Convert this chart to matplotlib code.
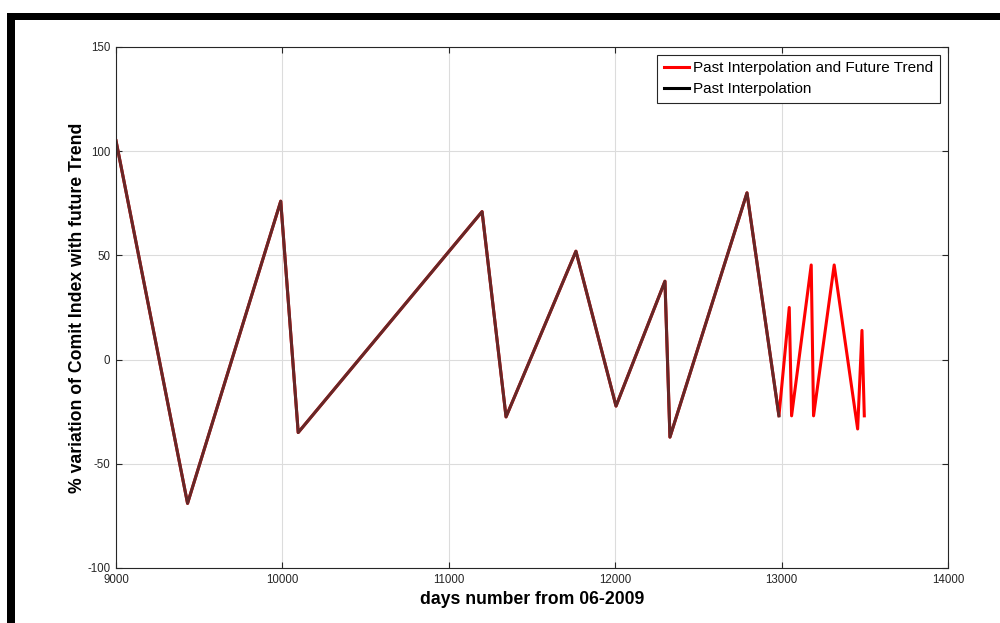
import matplotlib
matplotlib.use("Agg")
import matplotlib.pyplot as plt
from matplotlib.patches import Rectangle

plt.rcParams['font.family'] = ['Liberation Sans', 'DejaVu Sans']
plt.rcParams['axes.unicode_minus'] = False

# past interpolation (black) then future trend (red)
past_days = [9000, 9430, 9990, 10095, 11200, 11344, 11764, 12005, 12299, 12329, 12792, 12984]
past_vals = [105, -69, 76, -35, 71, -27.5, 52, -22.3, 37.6, -37.2, 80, -27]
future_days = [13046, 13060, 13178, 13192, 13316, 13457, 13483, 13497]
future_vals = [25, -27, 45.4, -27, 45.4, -33.3, 14, -27]

all_days = past_days + future_days
all_vals = past_vals + future_vals

x_ticks = [9000, 10000, 11000, 12000, 13000, 14000]
y_ticks = [-100, -50, 0, 50, 100, 150]

fig = plt.figure(figsize=(10, 6.23), dpi=100)
ax = fig.add_axes([0.116, 0.0883, 0.832, 0.8363])

ax.plot(all_days, all_vals, color='#ff0000', lw=2.2, label='Past Interpolation and Future Trend')
# black drawn over red, looks brownish in the original
ax.plot(past_days, past_vals, color='#652828', lw=2.2, label='Past Interpolation')

ax.set_xlim(9000, 14000)
ax.set_ylim(-100, 150)
ax.set_xticks(x_ticks)
ax.set_yticks(y_ticks)
ax.grid(True, color='#dcdcdc', lw=0.8)
ax.tick_params(direction='in', top=True, right=True, length=4, labelsize=8.3,
               colors='#262626', width=0.8, pad=4)
for s in ax.spines.values():
    s.set_color('#262626')
    s.set_linewidth(0.8)

ax.set_xlabel('days number from 06-2009', fontsize=12.7, fontweight='bold', labelpad=4)
ax.set_ylabel('% variation of Comit Index with future Trend', fontsize=12.7,
              fontweight='bold', labelpad=1)

leg = ax.legend(loc='upper right', fontsize=11, handlelength=1.6, handletextpad=0.3,
                borderaxespad=0.5, fancybox=False, framealpha=1, borderpad=0.45,
                labelspacing=0.45)
leg.get_frame().set_edgecolor('#262626')
leg.get_frame().set_linewidth(0.8)
leg.get_lines()[1].set_color('black')

# screenshot border, top and left
fig.add_artist(Rectangle((0.007, 1 - 20 / 623), 0.993, 7 / 623, transform=fig.transFigure,
                         color='black', lw=0))
fig.add_artist(Rectangle((0.007, 0), 0.008, 1 - 13 / 623, transform=fig.transFigure,
                         color='black', lw=0))

fig.savefig('out.png', dpi=100)
